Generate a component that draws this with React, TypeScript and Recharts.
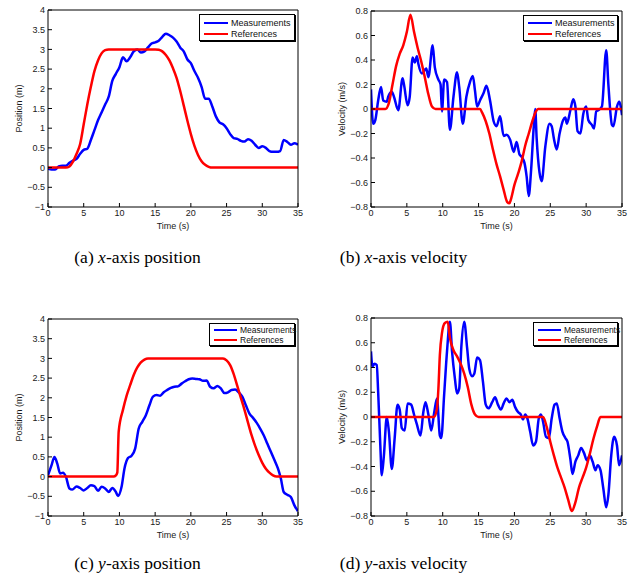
import { LineChart, Line, XAxis, YAxis } from "recharts";

const timeTicks = [0, 5, 10, 15, 20, 25, 30, 35];
const posTicks = [-1, -0.5, 0, 0.5, 1, 1.5, 2, 2.5, 3, 3.5, 4];
const velTicks = [-0.8, -0.6, -0.4, -0.2, 0, 0.2, 0.4, 0.6, 0.8];

// (a) x-axis position
const xPosRefT = [0, 2.5, 3, 3.5, 4, 4.5, 5, 5.5, 6, 6.5, 7, 7.5, 8, 8.5, 15, 15.5, 16, 16.5, 17, 17.5, 18, 18.5, 19, 19.5, 20, 20.5, 21, 21.5, 22, 22.5, 23, 35];
const xPosRef = [0, 0, 0.03, 0.15, 0.35, 0.6, 1.1, 1.6, 2.05, 2.45, 2.72, 2.9, 2.98, 3, 3, 2.99, 2.95, 2.86, 2.72, 2.52, 2.28, 1.95, 1.58, 1.2, 0.85, 0.55, 0.32, 0.16, 0.07, 0.02, 0, 0];
const xPosMeasT = [0, 0.5, 1, 1.5, 2, 2.5, 3, 3.5, 4, 4.5, 5, 5.5, 6, 6.5, 7, 7.5, 8, 8.5, 9, 9.5, 10, 10.5, 11, 11.5, 12, 12.5, 13, 13.5, 14, 14.5, 15, 15.5, 16, 16.5, 17, 17.5, 18, 18.5, 19, 19.5, 20, 20.5, 21, 21.5, 22, 22.5, 23, 23.5, 24, 24.5, 25, 25.5, 26, 26.5, 27, 27.5, 28, 28.5, 29, 29.5, 30, 30.5, 31, 31.5, 32, 32.5, 33, 33.5, 34, 34.5, 35];
const xPosMeas = [-0.03, -0.05, -0.05, 0.03, 0.05, 0.05, 0.12, 0.18, 0.22, 0.35, 0.45, 0.48, 0.7, 0.95, 1.2, 1.4, 1.6, 1.8, 2.2, 2.38, 2.55, 2.8, 2.7, 2.8, 2.95, 3.0, 2.92, 2.95, 3.05, 3.15, 3.18, 3.22, 3.32, 3.4, 3.36, 3.3, 3.2, 3.05, 2.95, 2.75, 2.65, 2.45, 2.28, 2.05, 1.75, 1.75, 1.55, 1.3, 1.15, 1.1, 1.0, 0.85, 0.75, 0.73, 0.68, 0.66, 0.72, 0.68, 0.58, 0.5, 0.54, 0.5, 0.42, 0.4, 0.4, 0.42, 0.7, 0.65, 0.58, 0.62, 0.58];

// (b) x-axis velocity
const xVelRefT = [0, 2, 2.5, 3, 3.5, 4, 4.5, 5, 5.5, 6, 6.5, 7, 7.5, 8, 8.5, 9, 15.2, 15.5, 16, 16.5, 17, 17.5, 18, 18.5, 19, 19.3, 19.5, 20, 20.5, 21, 21.5, 22, 22.5, 23, 23.3, 35];
const xVelRef = [0, 0, 0.05, 0.2, 0.35, 0.45, 0.52, 0.63, 0.77, 0.63, 0.5, 0.39, 0.26, 0.12, 0.02, 0, 0, -0.03, -0.1, -0.2, -0.33, -0.45, -0.55, -0.66, -0.76, -0.77, -0.74, -0.62, -0.53, -0.43, -0.3, -0.2, -0.1, -0.02, 0, 0];
const xVelMeasT = [0, 0.3, 0.6, 1.0, 1.4, 1.7, 2.2, 2.4, 2.9, 3.2, 3.8, 4.4, 4.6, 5.1, 5.4, 5.8, 6.1, 6.4, 6.6, 7.1, 7.7, 8.0, 8.6, 8.9, 9.4, 9.7, 9.9, 10.2, 10.6, 11.0, 11.5, 12.0, 12.3, 12.8, 13.3, 13.8, 14.2, 14.5, 14.8, 15.2, 15.7, 16.1, 16.6, 17.1, 17.5, 18.0, 18.5, 18.9, 19.4, 19.9, 20.3, 20.7, 21.0, 21.4, 21.7, 22.0, 22.3, 22.7, 22.9, 23.1, 23.5, 23.8, 24.3, 24.9, 25.2, 25.5, 25.9, 26.3, 26.8, 27.1, 27.3, 27.8, 28.2, 28.5, 28.8, 29.2, 29.6, 30.0, 30.3, 30.8, 31.1, 31.4, 31.7, 32.2, 32.8, 33.1, 33.6, 33.8, 34.3, 34.6, 35];
const xVelMeas = [0.16, -0.12, -0.09, 0.07, 0.18, 0.07, 0.06, 0.1, 0.14, 0.1, -0.01, 0.25, 0.2, 0.03, 0.1, 0.42, 0.38, 0.43, 0.37, 0.29, 0.33, 0.26, 0.52, 0.34, 0.24, 0.2, -0.02, 0.24, 0.22, -0.17, 0.1, 0.3, 0.18, -0.12, 0.1, 0.22, 0.27, 0.15, 0.02, 0.07, 0.13, 0.19, 0.07, -0.1, -0.14, -0.06, -0.22, -0.21, -0.25, -0.35, -0.27, -0.37, -0.39, -0.44, -0.55, -0.71, -0.52, -0.14, 0.0, -0.24, -0.52, -0.59, -0.31, -0.12, -0.14, -0.24, -0.33, -0.2, -0.09, -0.07, -0.12, -0.01, 0.08, 0.02, -0.18, -0.2, -0.04, 0.02, -0.09, -0.13, -0.16, -0.02, -0.01, 0.02, 0.48, 0.2, -0.13, -0.14, 0.02, 0.06, -0.05];

// (c) y-axis position
const yPosRefT = [0, 9.2, 9.5, 9.7, 9.9, 10.5, 11, 11.5, 12, 12.5, 13, 13.5, 14, 24.5, 25, 25.5, 26, 26.5, 27, 27.5, 28, 28.5, 29, 29.5, 30, 30.5, 31, 31.5, 32, 35];
const yPosRef = [0, 0, 0.03, 0.1, 1.15, 1.7, 2.05, 2.32, 2.58, 2.77, 2.9, 2.97, 3, 3, 2.95, 2.83, 2.6, 2.3, 2.0, 1.7, 1.37, 1.05, 0.78, 0.55, 0.35, 0.2, 0.1, 0.03, 0, 0];
const yPosMeasT = [0, 0.5, 0.9, 1.3, 1.7, 2.1, 2.5, 3.0, 3.4, 4, 4.5, 5, 5.5, 6, 6.5, 7, 7.5, 8, 8.5, 9, 9.5, 9.8, 10.3, 10.7, 11.2, 11.7, 12.2, 12.7, 13.2, 13.7, 14.2, 14.7, 15.2, 15.7, 16.2, 16.7, 17.2, 17.7, 18.2, 18.7, 19.2, 19.7, 20.2, 20.7, 21.2, 21.7, 22.2, 22.7, 23.2, 23.7, 24.2, 24.7, 25.2, 25.7, 26.2, 26.7, 27.2, 27.7, 28.2, 28.7, 29.2, 29.7, 30.2, 30.7, 31.2, 31.7, 32.2, 32.6, 33, 33.5, 34, 34.5, 35];
const yPosMeas = [0.03, 0.29, 0.5, 0.33, 0.08, 0.1, 0, -0.3, -0.33, -0.25, -0.29, -0.35, -0.29, -0.22, -0.24, -0.36, -0.26, -0.3, -0.39, -0.29, -0.39, -0.49, -0.26, 0.2, 0.47, 0.53, 0.71, 1.22, 1.39, 1.56, 1.81, 2.03, 2.07, 2.05, 2.14, 2.2, 2.25, 2.28, 2.29, 2.36, 2.42, 2.47, 2.49, 2.48, 2.47, 2.43, 2.44, 2.28, 2.24, 2.3, 2.24, 2.12, 2.14, 2.2, 2.21, 2.14, 2.03, 1.81, 1.6, 1.49, 1.37, 1.22, 1.05, 0.84, 0.63, 0.42, 0.2, -0.05, -0.39, -0.46, -0.52, -0.73, -0.88];

// (d) y-axis velocity
const yVelRefT = [0, 8.8, 9.2, 9.4, 9.6, 9.9, 10.3, 10.7, 11, 11.5, 12, 12.5, 13, 13.5, 14, 14.5, 15, 24, 24.5, 25, 25.5, 26, 26.5, 27, 27.5, 28, 28.5, 29, 29.5, 30, 30.5, 31, 31.5, 32, 35];
const yVelRef = [0, 0, 0.07, 0.23, 0.5, 0.68, 0.76, 0.77, 0.64, 0.54, 0.49, 0.43, 0.35, 0.24, 0.1, 0.02, 0, 0, -0.08, -0.2, -0.31, -0.41, -0.49, -0.57, -0.67, -0.76, -0.69, -0.57, -0.49, -0.41, -0.3, -0.18, -0.08, 0, 0];
const yVelMeasT = [0, 0.2, 0.5, 0.8, 1.0, 1.3, 1.5, 1.8, 2.2, 2.5, 2.9, 3.3, 3.7, 4.0, 4.3, 4.7, 5.1, 5.6, 6.0, 6.4, 6.9, 7.3, 7.6, 8.0, 8.4, 8.8, 9.2, 9.6, 9.8, 10.2, 10.6, 11.0, 11.3, 11.7, 12.0, 12.3, 12.6, 13.0, 13.4, 13.7, 14.1, 14.4, 14.8, 15.2, 15.6, 16.0, 16.4, 16.9, 17.3, 17.7, 18.1, 18.5, 18.9, 19.3, 19.7, 20.1, 20.5, 20.9, 21.2, 21.5, 21.8, 22.2, 22.6, 23.0, 23.4, 23.7, 24.0, 24.4, 24.8, 25.2, 25.6, 25.9, 26.3, 26.7, 27.1, 27.4, 27.8, 28.1, 28.5, 28.9, 29.3, 29.7, 30.1, 30.5, 30.9, 31.3, 31.6, 32.0, 32.4, 32.8, 33.1, 33.5, 33.9, 34.3, 34.6, 35];
const yVelMeas = [0.53, 0.41, 0.43, 0.42, 0.2, -0.23, -0.47, -0.31, 0, -0.12, -0.42, -0.17, 0.1, 0.06, -0.09, -0.11, 0.11, 0.1, 0.02, -0.06, -0.15, 0.04, 0.12, 0.02, -0.11, 0.03, 0.15, -0.15, -0.17, 0.18, 0.53, 0.77, 0.53, 0.31, 0.19, 0.23, 0.57, 0.77, 0.56, 0.39, 0.33, 0.35, 0.48, 0.46, 0.29, 0.1, 0.07, 0.12, 0.16, 0.1, 0.06, 0.11, 0.15, 0.12, 0.14, 0.08, 0.04, 0.02, -0.02, 0.02, -0.01, -0.12, -0.23, -0.2, -0.01, 0.02, -0.04, -0.16, -0.17, -0.01, 0.1, 0.11, -0.01, -0.12, -0.17, -0.2, -0.34, -0.46, -0.36, -0.31, -0.25, -0.29, -0.35, -0.31, -0.36, -0.43, -0.39, -0.43, -0.58, -0.73, -0.63, -0.31, -0.16, -0.23, -0.39, -0.31];

const FONT = "'Liberation Sans', Arial, Helvetica, sans-serif";
const zip = (t: number[], v: number[]) => t.map((x, i) => ({ t: x, v: v[i] }));
const fmt = (v: number) => (v < 0 ? `\u2212${Math.abs(v)}` : `${v}`);

type PanelProps = {
  x: number; y: number;
  plot: { l: number; t: number; r: number; b: number };
  refT: number[]; refV: number[]; measT: number[]; measV: number[];
  yTicks: number[]; yLabel: string;
};

function Panel({ x, y, plot, refT, refV, measT, measV, yTicks, yLabel }: PanelProps) {
  const W = 320, H = 240;
  const margin = { left: plot.l - x - 40, top: plot.t - y - 1, right: x + W - plot.r - 1, bottom: y + H - plot.b - 30 };
  const yDom = [yTicks[0], yTicks[yTicks.length - 1]];
  const tickStyle = { fill: "#1a1a1a", fontSize: 9, fontFamily: FONT };
  return (
    <div style={{ position: "absolute", left: x, top: y }}>
      <LineChart width={W} height={H} margin={margin}>
        <XAxis xAxisId="b" type="number" dataKey="t" domain={[0, 35]} ticks={timeTicks} interval={0}
          allowDataOverflow height={30} tickSize={-4} tickMargin={7} stroke="#000" tick={tickStyle}
          label={{
            content: (p: any) => {
              const vb = p.viewBox;
              if (!vb) return null;
              return (
                <text x={vb.x + vb.width / 2} y={vb.y + 22} textAnchor="middle" fontSize={9} fontFamily={FONT} fill="#1a1a1a">
                  Time (s)
                </text>
              );
            },
          }}
        />
        <XAxis xAxisId="t" orientation="top" type="number" dataKey="t" domain={[0, 35]} ticks={timeTicks}
          interval={0} allowDataOverflow height={1} tickSize={-4} tick={false} stroke="#000" />
        <YAxis yAxisId="l" type="number" domain={yDom} ticks={yTicks} interval={0} allowDataOverflow width={40}
          tickSize={-4} tickMargin={7} stroke="#000" tick={tickStyle} tickFormatter={fmt}
          label={{
            content: (p: any) => {
              const vb = p.viewBox;
              if (!vb) return null;
              const cx = vb.x + vb.width - 26;
              const cy = vb.y + vb.height / 2;
              return (
                <text x={cx} y={cy} transform={`rotate(-90 ${cx} ${cy})`} textAnchor="middle" fontSize={9} fontFamily={FONT} fill="#1a1a1a">
                  {yLabel}
                </text>
              );
            },
          }}
        />
        <YAxis yAxisId="r" orientation="right" type="number" domain={yDom} ticks={yTicks} interval={0}
          allowDataOverflow width={1} tickSize={-4} tick={false} stroke="#000" />
        <Line xAxisId="b" yAxisId="l" data={zip(measT, measV)} dataKey="v" type="monotone" stroke="#0000ff"
          strokeWidth={2.5} dot={false} isAnimationActive={false} />
        <Line xAxisId="b" yAxisId="l" data={zip(refT, refV)} dataKey="v" type="monotone" stroke="#ff0000"
          strokeWidth={2.5} dot={false} isAnimationActive={false} />
      </LineChart>
    </div>
  );
}

function LegendBox({ l, t, w, h, fs, row1, row2, lineLen }: { l: number; t: number; w: number; h: number; fs: number; row1: number; row2: number; lineLen: number }) {
  const rows = [
    { label: "Measurements", color: "#0000ff", y: row1 },
    { label: "References", color: "#ff0000", y: row2 },
  ];
  return (
    <div style={{ position: "absolute", left: l, top: t, width: w, height: h, border: "1px solid #000", boxShadow: "1px 1px 0 #000", background: "#fff", boxSizing: "border-box" }}>
      {rows.map((r) => (
        <div key={r.label} style={{ position: "absolute", left: 4, top: r.y - 6, height: 12, display: "flex", alignItems: "center" }}>
          <div style={{ width: lineLen, height: 2.5, background: r.color }} />
          <span style={{ marginLeft: 3, fontSize: fs, fontFamily: FONT, color: "#111", lineHeight: "12px" }}>{r.label}</span>
        </div>
      ))}
    </div>
  );
}

function Caption({ cx, cy, tag, v, rest }: { cx: number; cy: number; tag: string; v: string; rest: string }) {
  return (
    <div style={{ position: "absolute", left: cx - 120, top: cy - 12, width: 240, height: 24, textAlign: "center", fontFamily: "'Liberation Serif', 'Times New Roman', serif", fontSize: 17.5, lineHeight: "24px", color: "#000" }}>
      {tag} <i>{v}</i>{rest}
    </div>
  );
}

export default function App() {
  return (
    <div style={{ position: "absolute", left: 0, top: 0, width: 634, height: 580, background: "#fff", overflow: "hidden" }}>
      <Panel x={0} y={0} plot={{ l: 48, t: 10, r: 298, b: 207 }} refT={xPosRefT} refV={xPosRef} measT={xPosMeasT} measV={xPosMeas} yTicks={posTicks} yLabel="Position (m)" />
      <Panel x={320} y={0} plot={{ l: 371, t: 11, r: 622, b: 207 }} refT={xVelRefT} refV={xVelRef} measT={xVelMeasT} measV={xVelMeas} yTicks={velTicks} yLabel="Velocity (m/s)" />
      <Panel x={0} y={305} plot={{ l: 48, t: 319, r: 298, b: 516 }} refT={yPosRefT} refV={yPosRef} measT={yPosMeasT} measV={yPosMeas} yTicks={posTicks} yLabel="Position (m)" />
      <Panel x={320} y={305} plot={{ l: 371, t: 318, r: 622, b: 516 }} refT={yVelRefT} refV={yVelRef} measT={yVelMeasT} measV={yVelMeas} yTicks={velTicks} yLabel="Velocity (m/s)" />

      <LegendBox l={199} t={14} w={96} h={27} fs={9} row1={8} row2={19} lineLen={24} />
      <LegendBox l={523} t={15} w={95} h={26} fs={9} row1={7} row2={18} lineLen={24} />
      <LegendBox l={209} t={323} w={86} h={23} fs={8.5} row1={6} row2={16} lineLen={23} />
      <LegendBox l={533} t={322} w={85} h={24} fs={8.5} row1={7} row2={17} lineLen={23} />

      <Caption cx={137.5} cy={257} tag="(a)" v="x" rest="-axis position" />
      <Caption cx={403.5} cy={257} tag="(b)" v="x" rest="-axis velocity" />
      <Caption cx={137.5} cy={563} tag="(c)" v="y" rest="-axis position" />
      <Caption cx={403.5} cy={563} tag="(d)" v="y" rest="-axis velocity" />
    </div>
  );
}
